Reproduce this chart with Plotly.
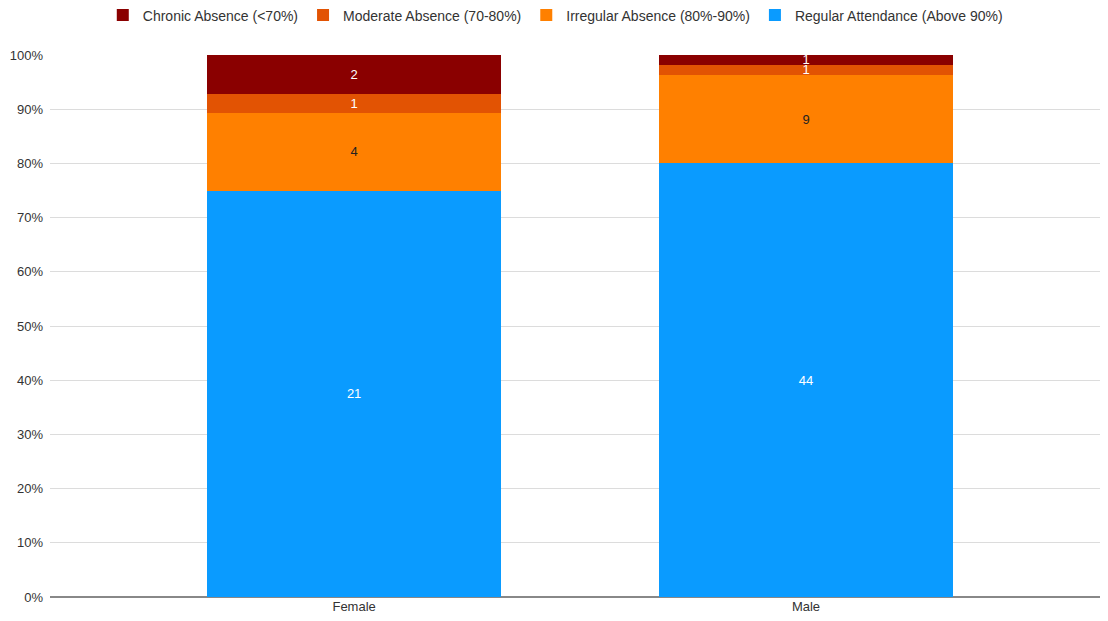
import plotly.graph_objects as go

categories = ["Female", "Male"]
series_names = [
    "Regular Attendance (Above 90%)",
    "Irregular Absence (80%-90%)",
    "Moderate Absence (70-80%)",
    "Chronic Absence (<70%)",
]
regular = [21, 44]
irregular = [4, 9]
moderate = [1, 1]
chronic = [2, 1]
tick_vals = [0, 10, 20, 30, 40, 50, 60, 70, 80, 90, 100]
tick_text = [f"{v}%" for v in tick_vals]

colors = ["#0a9bff", "#ff8000", "#e25303", "#8a0000"]
text_colors = ["white", "#222222", "white", "white"]
values = [regular, irregular, moderate, chronic]

fig = go.Figure()
for name, vals, col, tcol in zip(series_names, values, colors, text_colors):
    fig.add_trace(go.Bar(
        x=categories, y=vals, name=name,
        marker=dict(color=col, line=dict(width=0)),
        text=[str(v) for v in vals],
        textposition="inside", insidetextanchor="middle",
        constraintext="none", textangle=0,
        textfont=dict(color=tcol, size=13, family="Liberation Sans, Arial"),
        width=0.65,
    ))

fig.update_layout(
    barmode="stack", barnorm="percent",
    width=1108, height=621,
    paper_bgcolor="white", plot_bgcolor="white",
    margin=dict(l=42, r=0, t=47, b=32, autoexpand=False),
    font=dict(family="Liberation Sans, Arial", size=13, color="#444"),
    legend=dict(orientation="h", x=0.474, xanchor="center",
                yref="container", y=0.988, yanchor="middle",
                traceorder="reversed", font=dict(size=14, color="#333"),
                itemwidth=30),
    xaxis=dict(range=[-0.673, 1.686], showgrid=False, ticks="",
               tickfont=dict(size=13, color="#333"), automargin=False),
    yaxis=dict(range=[0, 100], tickvals=tick_vals, ticktext=tick_text,
               showgrid=True, gridcolor="#dcdcdc", gridwidth=1,
               zeroline=True, zerolinecolor="#888", zerolinewidth=1.5,
               tickfont=dict(size=13, color="#333"), ticks="",
               automargin=False, ticklabelstandoff=6),
)

fig.write_html("out.html")
